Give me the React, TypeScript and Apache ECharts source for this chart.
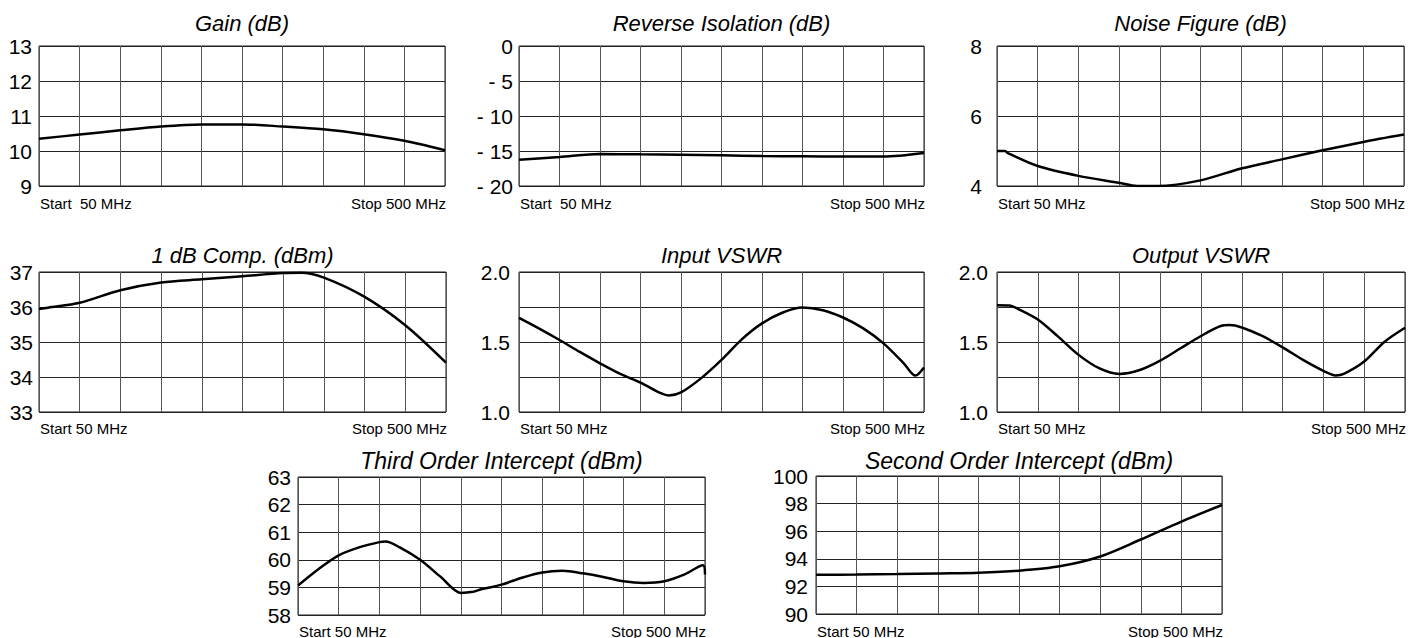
import React, { useEffect, useRef } from "react";
import * as echarts from "echarts";

// Frequency ticks (MHz): start 50, stop 500, 10 divisions of 45 MHz
const DIV_MHZ = [50, 95, 140, 185, 230, 275, 320, 365, 410, 455, 500];

const gainFreq = DIV_MHZ;
const gainVals = [10.35, 10.47, 10.59, 10.7, 10.76, 10.76, 10.7, 10.62, 10.48, 10.29, 10.02];

const revIsoFreq = DIV_MHZ;
const revIsoVals = [-16.24, -15.86, -15.43, -15.48, -15.52, -15.62, -15.71, -15.76, -15.8, -15.8, -15.29];

const nfFreq = [50, 59, 62, 95, 140, 185, 205, 228, 275, 320, 365, 410, 455, 500];
const nfVals = [5.0, 5.0, 4.94, 4.57, 4.29, 4.09, 4.0, 4.0, 4.16, 4.5, 4.76, 5.02, 5.26, 5.47];

const p1Freq = [50, 60, 95, 140, 185, 230, 275, 320, 340, 365, 410, 455, 500];
const p1Vals = [35.94, 35.98, 36.12, 36.48, 36.7, 36.79, 36.88, 36.97, 36.98, 36.84, 36.29, 35.48, 34.41];

const inVswrFreq = [50, 72.5, 95, 117.5, 140, 162.5, 185, 207.5, 216.5, 230, 252.5, 275, 297.5, 320, 342.5, 365, 387.5, 410, 432.5, 455, 477.5, 490.5, 500];
const inVswrVals = [1.673, 1.595, 1.514, 1.429, 1.348, 1.272, 1.21, 1.135, 1.118, 1.14, 1.242, 1.372, 1.519, 1.633, 1.709, 1.746, 1.727, 1.675, 1.597, 1.49, 1.348, 1.26, 1.318];

const outVswrFreq = [50, 63.5, 72.5, 95, 117.5, 140, 162.5, 185, 207.5, 230, 252.5, 275, 297.5, 306.5, 320, 342.5, 365, 387.5, 410, 423.5, 432.5, 455, 477.5, 500];
const outVswrVals = [1.763, 1.761, 1.739, 1.661, 1.538, 1.408, 1.313, 1.272, 1.3, 1.367, 1.455, 1.543, 1.616, 1.621, 1.604, 1.543, 1.462, 1.372, 1.294, 1.261, 1.272, 1.36, 1.502, 1.602];

const toiFreq = [50, 72.5, 95, 117.5, 140, 146.8, 162.5, 185, 207.5, 230, 243.5, 252.5, 275, 297.5, 320, 342.5, 365, 387.5, 410, 432.5, 455, 477.5, 497.8, 500];
const toiVals = [59.07, 59.66, 60.16, 60.45, 60.64, 60.66, 60.45, 60.0, 59.39, 58.8, 58.84, 58.93, 59.1, 59.35, 59.54, 59.6, 59.51, 59.38, 59.22, 59.16, 59.22, 59.47, 59.8, 59.47];

const soiFreq = DIV_MHZ;
const soiVals = [92.84, 92.86, 92.89, 92.94, 92.99, 93.14, 93.46, 94.17, 95.4, 96.7, 97.9];

const titles = [
  "Gain (dB)",
  "Reverse Isolation (dB)",
  "Noise Figure (dB)",
  "1 dB Comp. (dBm)",
  "Input VSWR",
  "Output VSWR",
  "Third Order Intercept (dBm)",
  "Second Order Intercept (dBm)",
];
const startLabels = ["Start  50 MHz", "Start  50 MHz", "Start 50 MHz", "Start 50 MHz", "Start 50 MHz", "Start 50 MHz", "Start 50 MHz", "Start 50 MHz"];
const stopLabel = "Stop 500 MHz";

const yMin = [9, -20, 4, 33, 1.0, 1.0, 58, 90];
const yMax = [13, 0, 8, 37, 2.0, 2.0, 63, 100];
const yStep = [1, 5, 1, 1, 0.25, 0.25, 1, 2];

const seriesFreq = [gainFreq, revIsoFreq, nfFreq, p1Freq, inVswrFreq, outVswrFreq, toiFreq, soiFreq];
const seriesVals = [gainVals, revIsoVals, nfVals, p1Vals, inVswrVals, outVswrVals, toiVals, soiVals];

// layout: [left, top, width, height, labelMargin, titleY, bottomLabelY]
const layout = [
  [39, 46, 406, 140, 7, 23, 203],
  [519, 46, 405, 140, 6, 23, 203],
  [997, 46, 407, 140, 15, 23, 203],
  [39, 272, 407, 140, 6, 255, 428],
  [519, 272, 405, 140, 9, 255, 428],
  [997, 272, 408, 140, 9, 255, 428],
  [298, 477, 407, 138, 7, 461, 631],
  [816, 476, 406, 138, 8, 461, 631],
];

const FONT = "'Liberation Sans', Arial, Helvetica, sans-serif";

function labelFormatter(idx: number) {
  return (v: number) => {
    if (idx === 1) return v < 0 ? "- " + Math.abs(v) : String(v);
    if (idx === 2) return Math.round(v) % 2 === 0 ? String(v) : "";
    if (idx === 4 || idx === 5) {
      const d = Math.round(v * 100);
      return d % 50 === 0 ? v.toFixed(1) : "";
    }
    return String(v);
  };
}

export default function App() {
  const ref = useRef<HTMLDivElement>(null);
  useEffect(() => {
    if (!ref.current) return;
    const chart = echarts.init(ref.current, null, { renderer: "svg" });
    const grids: any[] = [];
    const xAxes: any[] = [];
    const yAxes: any[] = [];
    const series: any[] = [];
    const graphics: any[] = [];
    layout.forEach((l, i) => {
      const [left, top, width, height, margin, titleY, botY] = l;
      grids.push({
        left,
        top,
        width,
        height,
        show: true,
        borderColor: "#1a1a1a",
        borderWidth: 1,
        backgroundColor: "transparent",
      });
      xAxes.push({
        type: "value",
        gridIndex: i,
        min: 50,
        max: 500,
        interval: 45,
        axisLine: { show: false },
        axisTick: { show: false },
        axisLabel: { show: false },
        splitLine: { show: true, lineStyle: { color: "#555", width: 1 } },
      });
      yAxes.push({
        type: "value",
        gridIndex: i,
        min: yMin[i],
        max: yMax[i],
        interval: yStep[i],
        axisLine: { show: false },
        axisTick: { show: false },
        axisLabel: {
          show: true,
          margin,
          color: "#000",
          fontSize: 21,
          fontFamily: FONT,
          formatter: labelFormatter(i),
        },
        splitLine: { show: true, lineStyle: { color: "#222", width: 1 } },
      });
      series.push({
        type: "line",
        xAxisIndex: i,
        yAxisIndex: i,
        data: seriesFreq[i].map((f, k) => [f, seriesVals[i][k]]),
        showSymbol: false,
        smooth: 0.3,
        lineStyle: { color: "#000", width: 2.5 },
        silent: true,
      });
      graphics.push({
        type: "text",
        x: left + width / 2,
        y: titleY,
        silent: true,
        style: {
          text: titles[i],
          fill: "#000",
          fontSize: i >= 6 ? 23 : 22,
          fontStyle: "italic",
          fontFamily: FONT,
          align: "center",
          verticalAlign: "middle",
        },
      });
      graphics.push({
        type: "text",
        x: left + 1,
        y: botY,
        silent: true,
        style: {
          text: startLabels[i],
          fill: "#000",
          fontSize: 15,
          fontFamily: FONT,
          align: "left",
          verticalAlign: "middle",
        },
      });
      graphics.push({
        type: "text",
        x: left + width + 1,
        y: botY,
        silent: true,
        style: {
          text: stopLabel,
          fill: "#000",
          fontSize: 15,
          fontFamily: FONT,
          align: "right",
          verticalAlign: "middle",
        },
      });
    });
    chart.setOption({
      animation: false,
      backgroundColor: "#fff",
      grid: grids,
      xAxis: xAxes,
      yAxis: yAxes,
      series,
      graphic: graphics,
    });
    return () => chart.dispose();
  }, []);
  return (
    <div
      ref={ref}
      style={{ position: "absolute", left: 0, top: 0, width: 1419, height: 638, background: "#fff" }}
    />
  );
}
